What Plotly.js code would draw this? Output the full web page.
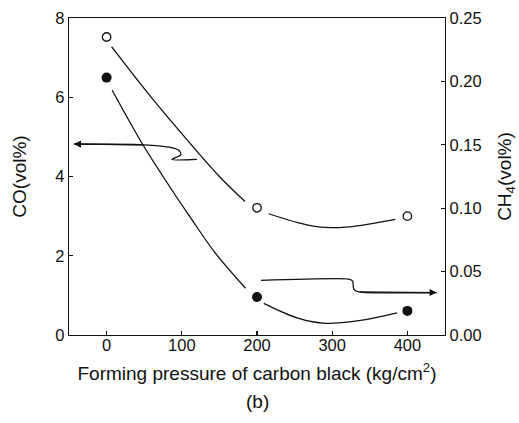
<!DOCTYPE html>
<html>
<head>
<meta charset="utf-8">
<script src="https://cdn.plot.ly/plotly-3.0.1.min.js"></script>
<style>
  html, body { margin: 0; padding: 0; background: #fff; }
  #chart { width: 519px; height: 423px; }
</style>
</head>
<body>
<div id="chart"></div>
<script>
// Measured points
const pressure = [0, 200, 400];
const coValues = [7.52, 3.21, 3.0];       // CO (vol%), left axis
const ch4Values = [0.203, 0.030, 0.019];  // CH4 (vol%), right axis

// Hand-drawn trend curves (null leaves a gap around the middle marker)
const coCurveX = [6.6, 56, 100, 149, 184, null, 215.5, 255.5, 284.3, 322, 384];
const coCurveY = [7.28, 6.08, 5.08, 4.02, 3.37, null, 3.06, 2.83, 2.72, 2.73, 2.92];
const ch4CurveX = [7.4, 47.3, 76.1, 113.8, 144.9, 184.7, null, 209, 255.5, 291, 335.3, 386.2];
const ch4CurveY = [0.193, 0.151, 0.124, 0.0906, 0.0644, 0.0369, null, 0.025, 0.0131, 0.0092, 0.0113, 0.0175];

// Pointer arrows (x in kg/cm2, y in CO units)
const leftArrowX = [120, 86.8, 98.7, 96, 82.8, 49.6, -43.5];
const leftArrowY = [4.43, 4.43, 4.55, 4.66, 4.74, 4.80, 4.82];
const rightArrowX = [205.4, 322, 327.3, 328.6, 335.3, 439];
const rightArrowY = [1.38, 1.41, 1.36, 1.16, 1.09, 1.07];

const xTicks = [0, 100, 200, 300, 400];
const coTicks = [0, 2, 4, 6, 8];
const ch4Ticks = [0, 0.05, 0.10, 0.15, 0.20, 0.25];
const ch4TickText = ['0.00', '0.05', '0.10', '0.15', '0.20', '0.25'];

const ink = '#111';
const font = 'Liberation Sans, Arial, sans-serif';

const traces = [
  { x: coCurveX, y: coCurveY, mode: 'lines', line: { color: ink, width: 1.3, shape: 'spline' },
    connectgaps: false, hoverinfo: 'skip', showlegend: false },
  { x: ch4CurveX, y: ch4CurveY, yaxis: 'y2', mode: 'lines', line: { color: ink, width: 1.3, shape: 'spline' },
    connectgaps: false, hoverinfo: 'skip', showlegend: false },
  { x: leftArrowX, y: leftArrowY, mode: 'lines', line: { color: ink, width: 1.3, shape: 'spline', smoothing: 0.8 },
    hoverinfo: 'skip', showlegend: false },
  { x: rightArrowX, y: rightArrowY, mode: 'lines', line: { color: ink, width: 1.3, shape: 'spline', smoothing: 0.6 },
    hoverinfo: 'skip', showlegend: false },
  { x: pressure, y: coValues, mode: 'markers', name: 'CO',
    marker: { symbol: 'circle', size: 8.5, color: '#fff', line: { color: ink, width: 1.3 } }, showlegend: false },
  { x: pressure, y: ch4Values, yaxis: 'y2', mode: 'markers', name: 'CH4',
    marker: { symbol: 'circle', size: 10, color: ink, line: { width: 0 } }, showlegend: false }
];

const nL = leftArrowX.length, nR = rightArrowX.length;
const annotations = [
  { x: leftArrowX[nL - 1], y: leftArrowY[nL - 1], ax: leftArrowX[nL - 2], ay: leftArrowY[nL - 2],
    xref: 'x', yref: 'y', axref: 'x', ayref: 'y', text: '', showarrow: true,
    arrowhead: 2, arrowsize: 1.1, arrowwidth: 1.3, arrowcolor: ink },
  { x: rightArrowX[nR - 1], y: rightArrowY[nR - 1], ax: rightArrowX[nR - 2], ay: rightArrowY[nR - 2],
    xref: 'x', yref: 'y', axref: 'x', ayref: 'y', text: '', showarrow: true,
    arrowhead: 2, arrowsize: 1.1, arrowwidth: 1.3, arrowcolor: ink },
  // panel label below the axis title (paper units: plot area is 317 px tall)
  { x: 0.5, y: -(401 - 335) / 317, xref: 'paper', yref: 'paper', text: '(b)', showarrow: false,
    font: { family: font, size: 19, color: ink }, xanchor: 'center', yanchor: 'middle' }
];

const axisCommon = {
  showgrid: false, zeroline: false, showline: true, linecolor: ink, linewidth: 1.3,
  ticks: 'inside', ticklen: 4, tickwidth: 1.2, tickcolor: ink,
  tickfont: { family: font, size: 16.5, color: ink }
};

const layout = {
  width: 519, height: 423,
  margin: { l: 69, r: 74, t: 18, b: 88 },
  paper_bgcolor: '#fff', plot_bgcolor: '#fff',
  xaxis: Object.assign({}, axisCommon, {
    range: [-50, 450], tickvals: xTicks, mirror: true, ticklabelstandoff: -5,
    title: { text: 'Forming pressure of carbon black (kg/cm<sup>2</sup>)', standoff: 13,
             font: { family: font, size: 19, color: ink } }
  }),
  yaxis: Object.assign({}, axisCommon, {
    range: [0, 8], tickvals: coTicks,
    title: { text: 'CO(vol%)', standoff: 23, font: { family: font, size: 19, color: ink } }
  }),
  yaxis2: Object.assign({}, axisCommon, {
    range: [0, 0.25], tickvals: ch4Ticks, ticktext: ch4TickText,
    overlaying: 'y', side: 'right',
    title: { text: 'CH<sub>4</sub>(vol%)', standoff: 17, font: { family: font, size: 19, color: ink } }
  }),
  annotations: annotations,
  showlegend: false
};

Plotly.newPlot('chart', traces, layout, { staticPlot: true, displayModeBar: false });
</script>
</body>
</html>
